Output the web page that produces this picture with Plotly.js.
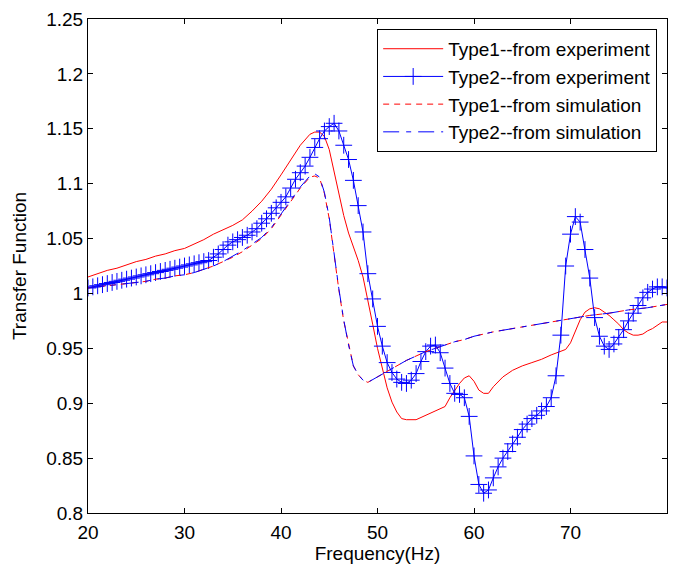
<!DOCTYPE html>
<html>
<head>
<meta charset="utf-8">
<script src="https://cdn.plot.ly/plotly-3.0.1.min.js"></script>
<style>html,body{margin:0;padding:0;background:#fff;}#chart{width:677px;height:566px;}</style>
</head>
<body>
<div id="chart"></div>
<script>
// Type1 -- from experiment (red solid)
const t1ExpF = [20,21,22,23,24,25,26,27,28,29,30,31,32,33,34,35,36,37,38,39,40,41,42,43,43.5,44,44.5,45,45.5,46,46.5,47,47.5,48,48.5,49,49.5,50,50.5,51,51.5,52,52.5,53,54,55,56,57,57.5,58,58.5,59,59.5,60,60.5,61,61.5,62,62.5,63,64,65,66,67,68,69,69.5,70,70.5,71,71.5,72,72.5,73,73.5,74,74.5,75,75.5,76,76.5,77,77.5,78,78.5,79,79.5,80];
const t1ExpV = [1.015,1.018,1.021,1.023,1.026,1.029,1.031,1.034,1.036,1.039,1.041,1.045,1.049,1.054,1.058,1.062,1.067,1.075,1.084,1.095,1.108,1.122,1.135,1.145,1.147,1.147,1.143,1.131,1.110,1.090,1.071,1.055,1.043,1.030,1.015,0.995,0.972,0.950,0.932,0.914,0.901,0.892,0.886,0.885,0.885,0.889,0.893,0.897,0.905,0.912,0.918,0.923,0.925,0.920,0.912,0.909,0.909,0.915,0.920,0.924,0.930,0.934,0.937,0.940,0.944,0.947,0.949,0.955,0.965,0.976,0.983,0.986,0.987,0.986,0.983,0.980,0.976,0.972,0.967,0.964,0.962,0.962,0.963,0.966,0.968,0.971,0.974,0.974];

// Type2 -- from experiment (blue, + markers)
const t2ExpF = [20,20.5,21,21.5,22,22.5,23,23.5,24,24.5,25,25.5,26,26.5,27,27.5,28,28.5,29,29.5,30,30.5,31,31.5,32,32.5,33,33.5,34,34.5,35,35.5,36,36.5,37,37.5,38,38.5,39,39.5,40,40.5,41,41.5,42,42.5,43,43.5,44,44.5,45,45.5,46,46.5,47,47.5,48,48.5,49,49.5,50,50.5,51,51.5,52,52.5,53,53.5,54,54.5,55,55.5,56,56.5,57,57.5,58,58.5,59,59.5,60,60.5,61,61.5,62,62.5,63,63.5,64,64.5,65,65.5,66,66.5,67,67.5,68,68.5,69,69.5,70,70.5,71,71.5,72,72.5,73,73.5,74,74.5,75,75.5,76,76.5,77,77.5,78,78.5,79,79.5,80];
const t2ExpV = [1.005,1.006,1.007,1.008,1.009,1.010,1.011,1.012,1.013,1.014,1.015,1.016,1.017,1.018,1.019,1.020,1.021,1.022,1.023,1.024,1.025,1.026,1.027,1.028,1.029,1.030,1.033,1.036,1.040,1.044,1.047,1.049,1.051,1.053,1.056,1.059,1.064,1.068,1.073,1.078,1.083,1.088,1.096,1.104,1.110,1.116,1.124,1.133,1.141,1.148,1.152,1.155,1.148,1.135,1.122,1.103,1.080,1.056,1.018,0.995,0.970,0.952,0.937,0.928,0.922,0.919,0.918,0.921,0.927,0.938,0.947,0.952,0.953,0.946,0.932,0.918,0.909,0.908,0.905,0.888,0.852,0.826,0.818,0.821,0.832,0.842,0.850,0.856,0.863,0.869,0.876,0.881,0.886,0.889,0.893,0.897,0.905,0.925,0.962,1.025,1.054,1.070,1.065,1.040,1.014,0.978,0.961,0.952,0.949,0.954,0.960,0.967,0.975,0.982,0.989,0.996,1.001,1.004,1.006,1.006,1.005];

// Type1 -- from simulation (red dashed)
const t1SimF = [20,21,22,23,24,25,26,27,28,29,30,31,32,33,34,35,36,37,38,39,40,41,42,43,43.5,44,44.5,45,45.5,46,46.5,47,47.5,48,48.5,49,50,51,52,53,54,55,56,57,58,59,60,62,64,66,68,70,72,74,76,78,80];
const t1SimV = [1.005,1.006,1.007,1.008,1.009,1.010,1.011,1.013,1.014,1.016,1.017,1.019,1.022,1.025,1.029,1.033,1.038,1.044,1.050,1.059,1.071,1.083,1.096,1.106,1.107,1.105,1.091,1.068,1.035,1.003,0.975,0.953,0.934,0.926,0.921,0.919,0.924,0.929,0.934,0.939,0.943,0.947,0.950,0.953,0.956,0.958,0.961,0.965,0.968,0.971,0.974,0.977,0.980,0.982,0.985,0.987,0.990];

// Type2 -- from simulation (blue dash-dot)
const t2SimF = [20,21,22,23,24,25,26,27,28,29,30,31,32,33,34,35,36,37,38,39,40,41,42,43,43.5,44,44.5,45,45.5,46,46.5,47,47.5,48,48.5,49,50,51,52,53,54,55,56,57,58,59,60,62,64,66,68,70,72,74,76,78,80];
const t2SimV = [1.005,1.006,1.007,1.008,1.009,1.010,1.011,1.013,1.014,1.016,1.017,1.019,1.022,1.025,1.029,1.034,1.039,1.045,1.051,1.060,1.072,1.084,1.097,1.107,1.109,1.106,1.092,1.069,1.036,1.004,0.976,0.953,0.934,0.926,0.921,0.919,0.924,0.929,0.934,0.939,0.943,0.947,0.950,0.953,0.956,0.958,0.961,0.965,0.968,0.971,0.974,0.977,0.980,0.982,0.985,0.987,0.990];

const seriesNames = ['Type1--from experiment','Type2--from experiment','Type1--from simulation','Type2--from simulation'];
const xTicks = [20,30,40,50,60,70,80];
const yTicks = [0.8,0.85,0.9,0.95,1,1.05,1.1,1.15,1.2,1.25];
const yTickText = ['0.8','0.85','0.9','0.95','1','1.05','1.1','1.15','1.2','1.25'];

const RED = '#ff0000', BLUE = '#0000ff';
const FONT = 'Liberation Sans, Arial, sans-serif';

const traces = [
  {x:t1ExpF, y:t1ExpV, name:seriesNames[0], mode:'lines', legendgroup:'a',
   line:{color:RED, width:1}},
  {x:t2ExpF, y:t2ExpV, name:seriesNames[1], mode:'lines+markers', legendgroup:'b',
   line:{color:BLUE, width:1},
   marker:{symbol:'cross-thin', size:12, color:BLUE, line:{color:BLUE, width:1}}},
  {x:t1SimF, y:t1SimV, name:seriesNames[2], mode:'lines', legendgroup:'c',
   line:{color:RED, width:1, dash:'6px,5px'}},
  {x:t2SimF, y:t2SimV, name:seriesNames[3], mode:'lines', legendgroup:'d',
   line:{color:BLUE, width:1, dash:'16px,7px,5px,7px'}}
];

const axisCommon = {
  showline:true, linecolor:'#000', linewidth:1, mirror:'allticks',
  ticks:'inside', ticklen:5, tickwidth:1, tickcolor:'#000',
  showgrid:false, zeroline:false,
  tickfont:{family:FONT, size:19, color:'#000'}
};

const layout = {
  width:677, height:566,
  margin:{l:88, r:10, t:19, b:53},
  paper_bgcolor:'#fff', plot_bgcolor:'#fff',
  font:{family:FONT, size:19, color:'#000'},
  showlegend:true,
  legend:{
    x:0.983, xanchor:'right', y:0.98, yanchor:'top',
    bgcolor:'#fff', bordercolor:'#000', borderwidth:1,
    font:{family:FONT, size:19, color:'#000'},
    traceorder:'grouped', tracegroupgap:0, itemwidth:60
  },
  xaxis:Object.assign({}, axisCommon, {
    range:[20,80], tickvals:xTicks, ticktext:xTicks.map(String),
    ticklabelstandoff:2,
    title:{text:'Frequency(Hz)', font:{family:FONT, size:19, color:'#000'}, standoff:4}
  }),
  yaxis:Object.assign({}, axisCommon, {
    range:[0.8,1.25], tickvals:yTicks, ticktext:yTickText,
    title:{text:'Transfer Function', font:{family:FONT, size:19, color:'#000'}, standoff:14}
  })
};

Plotly.newPlot('chart', traces, layout, {displayModeBar:false, staticPlot:true});
</script>
</body>
</html>
